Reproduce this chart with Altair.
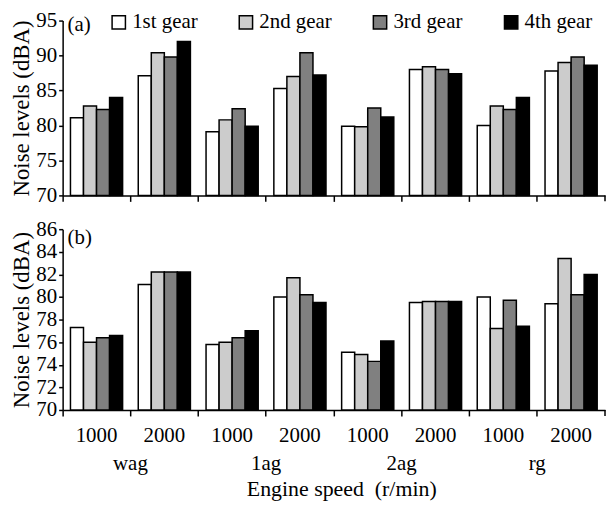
import altair as alt
import pandas as pd

vehicles = ["wag", "1ag", "2ag", "rg"]
speeds = ["1000", "2000"]
gears = ["1st gear", "2nd gear", "3rd gear", "4th gear"]
gear_colors = ["#ffffff", "#cccccc", "#808080", "#000000"]

# rows: wag 1000, wag 2000, 1ag 1000, 1ag 2000, 2ag 1000, 2ag 2000, rg 1000, rg 2000
# columns: 1st, 2nd, 3rd, 4th gear
noise_a = [
    [81.1, 82.8, 82.3, 84.0],
    [87.1, 90.4, 89.8, 92.0],
    [79.1, 80.8, 82.4, 79.9],
    [85.3, 87.0, 90.4, 87.2],
    [79.9, 79.8, 82.5, 81.2],
    [88.0, 88.4, 88.0, 87.4],
    [80.0, 82.8, 82.3, 84.0],
    [87.8, 89.0, 89.8, 88.6],
]
noise_b = [
    [77.3, 76.0, 76.4, 76.6],
    [81.1, 82.2, 82.2, 82.2],
    [75.8, 76.0, 76.4, 77.0],
    [80.0, 81.7, 80.2, 79.5],
    [75.1, 74.9, 74.3, 76.1],
    [79.5, 79.6, 79.6, 79.6],
    [80.0, 77.2, 79.7, 77.4],
    [79.4, 83.4, 80.2, 82.0],
]
ticks_a = [70, 75, 80, 85, 90, 95]
ticks_b = [70, 72, 74, 76, 78, 80, 82, 84, 86]
x_title = "Engine speed\u00a0\u00a0(r/min)"

FONT = "Liberation Serif"
W = 546


def make_df(values):
    rows = []
    i = 0
    for v in vehicles:
        for s in speeds:
            for g, val in zip(gears, values[i]):
                rows.append({"grp": f"{v} {s}", "vehicle": v, "speed": s,
                             "gear": g, "value": val})
            i += 1
    return pd.DataFrame(rows)


groups = [f"{v} {s}" for v in vehicles for s in speeds]


def panel(values, domain, ticks, H, tag, tag_y, legend, bottom):
    df = make_df(values)
    base = alt.Chart(df)
    one = alt.Chart(pd.DataFrame({"t": [tag]}))
    xaxis = alt.Axis(title=None, labels=False, ticks=True, tickSize=6,
                     tickColor="black", tickWidth=1.5, domainColor="black",
                     domainWidth=1.5, bandPosition=0, grid=False)
    bars = base.mark_bar(stroke="black", strokeWidth=1.5).encode(
        x=alt.X("grp:N", sort=groups,
                scale=alt.Scale(paddingInner=0, paddingOuter=0), axis=xaxis),
        xOffset=alt.XOffset("gear:N", sort=gears,
                            scale=alt.Scale(paddingInner=0, paddingOuter=0.6)),
        y=alt.Y("value:Q",
                scale=alt.Scale(domain=domain, zero=False, nice=False),
                axis=alt.Axis(values=ticks, title="Noise levels (dBA)",
                              titleFont=FONT, titleFontSize=23,
                              titleFontWeight="normal", titleColor="black",
                              titlePadding=2, labelFont=FONT, labelFontSize=21,
                              labelColor="black", labelPadding=2, tickSize=4,
                              tickColor="black", tickWidth=1.5,
                              domainColor="black", domainWidth=1.5, grid=False)),
        y2=alt.datum(domain[0]),
        color=alt.Color("gear:N", sort=gears,
                        scale=alt.Scale(domain=gears, range=gear_colors),
                        legend=legend),
    )
    end_tick = one.mark_rule(color="black", strokeWidth=1.5).encode(
        x=alt.value(W), y=alt.value(H), y2=alt.value(H + 6))
    tag_txt = one.mark_text(font=FONT, fontSize=21, align="left",
                            baseline="middle", color="black").encode(
        x=alt.value(5), y=alt.value(tag_y), text="t:N")
    layers = [bars, end_tick, tag_txt]
    if bottom:
        speed_txt = base.transform_filter(alt.datum.gear == gears[0]).mark_text(
            font=FONT, fontSize=21, baseline="middle", color="black").encode(
            x=alt.X("grp:N", sort=groups), y=alt.value(H + 26),
            text="speed:N")
        veh_txt = base.transform_filter(
            (alt.datum.gear == gears[0]) & (alt.datum.speed == "2000")
        ).mark_text(font=FONT, fontSize=21, baseline="middle",
                    color="black").encode(
            x=alt.X("grp:N", sort=groups, bandPosition=0),
            y=alt.value(H + 54), text="vehicle:N")
        title_txt = alt.Chart(pd.DataFrame({"t": [x_title]})).mark_text(
            font=FONT, fontSize=22, baseline="middle", color="black").encode(
            x=alt.value(W / 2 + 8), y=alt.value(H + 80), text="t:N")
        layers += [speed_txt, veh_txt, title_txt]
    return alt.layer(*layers).properties(width=W, height=H)


legend_a = alt.Legend(orient="none", legendX=46, legendY=-9,
                      direction="horizontal", title=None, symbolType="square",
                      symbolSize=180, symbolStrokeColor="black",
                      symbolStrokeWidth=1.5, labelFont=FONT, labelFontSize=21,
                      labelColor="black", labelOffset=3, columnPadding=38)

top = panel(noise_a, [70, 95], ticks_a, 176, "(a)", 5, legend_a, False)
bot = panel(noise_b, [70, 86], ticks_b, 182, "(b)", 9, None, True)

chart = alt.vconcat(top, bot, spacing=13).resolve_legend(
    color="independent").properties(
    padding={"left": 3, "top": 0, "right": 0, "bottom": 0}
).configure_view(stroke=None)

chart.save("out.html", embed_options={"renderer": "svg", "actions": False})
